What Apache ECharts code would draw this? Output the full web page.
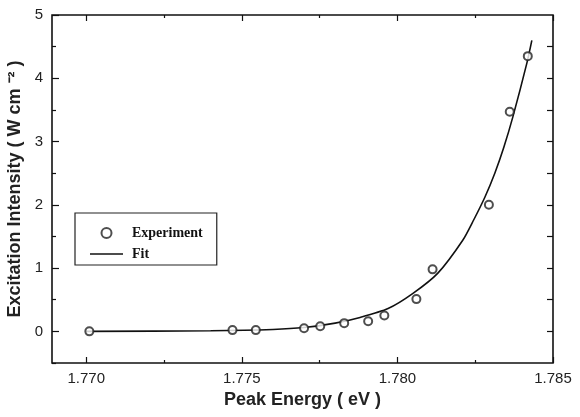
<!DOCTYPE html>
<html>
<head>
    <meta charset="utf-8">
    <title>Excitation intensity vs peak energy</title>
    <script type="text/javascript" src="https://cdn.jsdelivr.net/npm/echarts@6.0.0/dist/echarts.min.js"></script>
</head>
<body style="margin:0;">
    <div id="main" style="width:580px; height:417px;"></div>
    <script type="text/javascript">

    // measured points (eV, W cm^-2)
    var expEnergy = [1.7701, 1.7747, 1.77545, 1.7770, 1.77752, 1.77829, 1.77906, 1.77958, 1.78061, 1.78113, 1.78294, 1.78361, 1.78419];
    var expIntensity = [0.00, 0.02, 0.02, 0.05, 0.08, 0.13, 0.16, 0.25, 0.51, 0.98, 2.00, 3.47, 4.35];

    // fit curve
    var fitEnergy = [1.7700, 1.7740, 1.7760, 1.7770, 1.7780, 1.7788, 1.7797, 1.7805, 1.7813, 1.7821, 1.78245, 1.78281, 1.78313, 1.78342, 1.78371, 1.78416, 1.78432];
    var fitIntensity = [0.00, 0.01, 0.03, 0.06, 0.13, 0.22, 0.36, 0.60, 0.92, 1.44, 1.76, 2.12, 2.50, 2.91, 3.39, 4.24, 4.60];

    // tick positions
    var xMajor = [1.770, 1.775, 1.780, 1.785];
    var xMinor = [1.7725, 1.7775, 1.7825];
    var yMajor = [0, 1, 2, 3, 4, 5];
    var yMinor = [-0.5, 0.5, 1.5, 2.5, 3.5, 4.5];
    var yRight = [0, 0.5, 1, 1.5, 2, 2.5, 3, 3.5, 4, 4.5];

    var xMin = 1.7689, xMax = 1.785;
    var yMin = -0.5, yMax = 5;

    function zip(a, b) {
        var out = [];
        for (var i = 0; i < a.length; i++) out.push([a[i], b[i]]);
        return out;
    }

    var ink = '#111';
    var sans = 'Liberation Sans, Arial, sans-serif';

    // one axis = one set of ticks (major / minor lengths differ)
    function tickAxis(pos, ticks, len, labels, extra) {
        var ax = {
            type: 'value',
            position: pos,
            axisLine: {show: false, onZero: false},
            splitLine: {show: false},
            axisTick: {show: true, inside: true, length: len, customValues: ticks,
                lineStyle: {color: ink, width: 1.2}},
            axisLabel: {show: false}
        };
        if (labels) {
            ax.axisLabel = {show: true, customValues: labels, margin: extra.margin,
                color: '#222', fontSize: 15, fontFamily: sans,
                formatter: extra.fmt};
        }
        for (var k in extra) {
            if (k !== 'fmt' && k !== 'margin') ax[k] = extra[k];
        }
        return ax;
    }

    var xCommon = {min: xMin, max: xMax};
    var yCommon = {min: yMin, max: yMax};

    var xAxes = [
        tickAxis('bottom', xMajor, 6, xMajor, Object.assign({
            fmt: function (v) { return v.toFixed(3); },
            margin: 8,
            name: 'Peak Energy ( eV )',
            nameLocation: 'middle',
            nameGap: 24,
            nameTextStyle: {color: '#222', fontSize: 18, fontWeight: 'bold', fontFamily: sans}
        }, xCommon)),
        tickAxis('bottom', xMinor, 3, null, Object.assign({}, xCommon)),
        tickAxis('top', xMajor, 6, null, Object.assign({}, xCommon)),
        tickAxis('top', xMinor, 3, null, Object.assign({}, xCommon))
    ];

    var yAxes = [
        tickAxis('left', yMajor, 7, yMajor, Object.assign({
            fmt: function (v) { return String(Math.round(v)); },
            margin: 9,
            name: 'Excitation Intensity ( W cm \u207B\u00B2 )',
            nameLocation: 'middle',
            nameGap: 28,
            nameTextStyle: {color: '#222', fontSize: 18, fontWeight: 'bold', fontFamily: sans}
        }, yCommon)),
        tickAxis('left', yMinor, 4, null, Object.assign({}, yCommon)),
        tickAxis('right', yRight, 6, null, Object.assign({}, yCommon))
    ];

    var myChart = echarts.init(document.getElementById('main'));

    var option = {
        backgroundColor: '#fff',
        animation: false,
        grid: {
            left: 52, right: 27, top: 15, bottom: 54,
            show: true,
            borderColor: ink,
            borderWidth: 1.6,
            containLabel: false,
            outerBoundsMode: 'none'
        },
        legend: {
            orient: 'vertical',
            left: 75,
            top: 213,
            padding: [13, 14, 4, 15],
            itemGap: 7,
            itemWidth: 33,
            itemHeight: 10,
            borderColor: '#222',
            borderWidth: 1.2,
            backgroundColor: '#fff',
            textStyle: {color: '#111', fontSize: 14, fontWeight: 'bold',
                fontFamily: 'Liberation Serif, Times New Roman, serif',
                padding: [0, 0, 0, 4]},
            data: [
                {name: 'Experiment', icon: 'emptyCircle'},
                // thin bar; the move-tos keep the 33x10 box so it is not stretched
                {name: 'Fit', icon: 'path://M0,0 M33,10 M0,4.3 L33,4.3 L33,5.8 L0,5.8 Z'}
            ]
        },
        xAxis: xAxes,
        yAxis: yAxes,
        series: [
            {
                name: 'Fit',
                type: 'line',
                smooth: 0.25,
                symbol: 'none',
                color: ink,
                lineStyle: {color: ink, width: 1.6},
                data: zip(fitEnergy, fitIntensity),
                z: 2
            },
            {
                name: 'Experiment',
                type: 'scatter',
                symbol: 'emptyCircle',
                symbolSize: 8,
                color: '#222',
                itemStyle: {borderColor: '#222', borderWidth: 1.1},
                data: zip(expEnergy, expIntensity),
                z: 3
            }
        ]
    };

    myChart.setOption(option);
    </script>
</body>
</html>
